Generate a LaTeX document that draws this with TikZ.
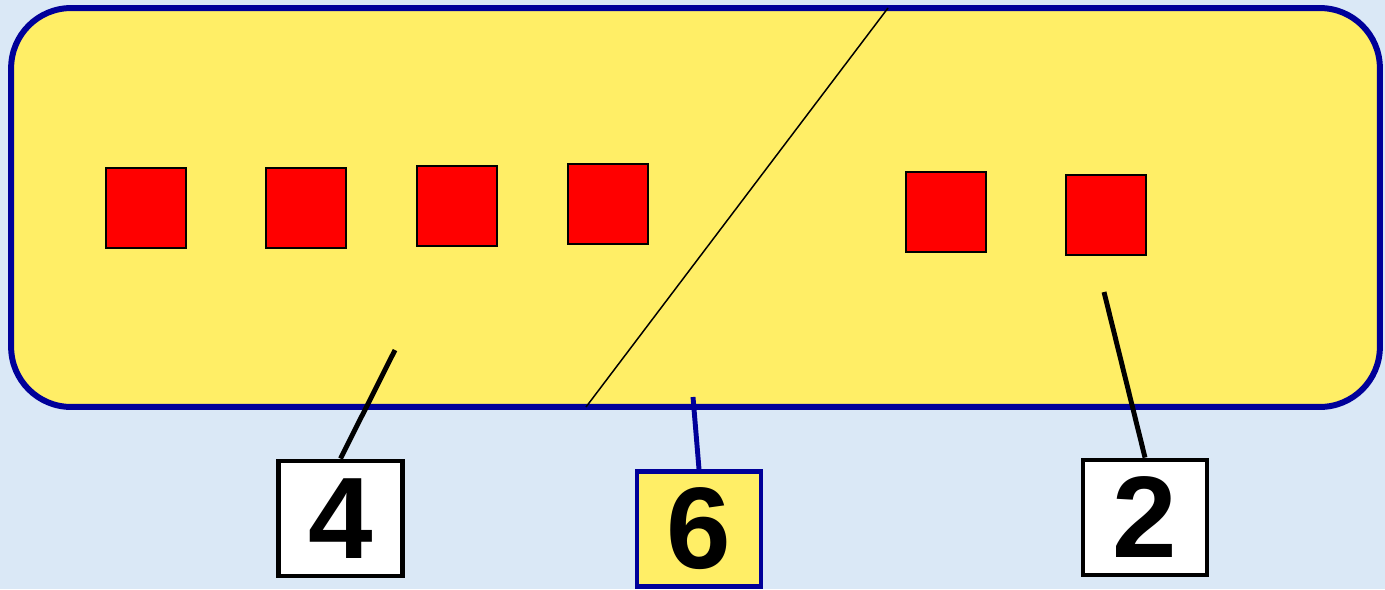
\documentclass[tikz,border=0pt]{standalone}
\usepackage{fontspec}
\setmainfont{Liberation Sans}
\usepackage{xcolor}
\usetikzlibrary{positioning}
\definecolor{skyback}{HTML}{DAE8F6}
\definecolor{panelfill}{HTML}{FFEE66}
\definecolor{panelstroke}{HTML}{000099}
\definecolor{blockred}{HTML}{FF0000}

\begin{document}
\begin{tikzpicture}[
  x=0.02cm,
  y=-0.02cm,
  panel/.style={
    rectangle,
    rounded corners=1.2cm,
    draw=panelstroke,
    fill=panelfill,
    line width=3.4pt,
    minimum width=27.38cm,
    minimum height=7.98cm,
    inner sep=0pt
  },
  block/.style={
    rectangle,
    draw=black,
    fill=blockred,
    line width=1.1pt,
    minimum size=1.6cm,
    inner sep=0pt
  },
  tag/.style={
    rectangle,
    draw=black,
    fill=white,
    line width=2.8pt,
    minimum width=2.48cm,
    minimum height=2.3cm,
    inner sep=0pt,
    font=\fontsize{66}{66}\selectfont\bfseries
  },
  tagblue/.style={
    tag,
    draw=panelstroke,
    fill=panelfill
  },
  pointer/.style={
    draw=black,
    line width=2.8pt
  },
  pointerblue/.style={
    draw=panelstroke,
    line width=2.8pt
  },
  divider/.style={
    draw=black,
    line width=0.85pt
  }
]

\fill[skyback] (0,0) rectangle (1385,589);
\useasboundingbox (0,0) rectangle (1385,589);

\node[panel] (panel) at (695.5,207.5) {};

% Divider across the panel
\coordinate (cuttop) at (888,8);
\coordinate (cutbot) at (586,407);
\draw[divider] (cuttop) -- (cutbot);

% Left group
\node[block] (b1) at (146,208) {};
\node[block] (b2) at (306,208) {};
\node[block] (b3) at (457,206) {};
\node[block] (b4) at (608,204) {};

% Right group
\node[block] (b5) at (946,212) {};
\node[block] (b6) at (1106,215) {};

% Tags
\node[tag]     (four) at (340.5,518.5) {4};
\node[tagblue] (six)  at (699,529)     {6};
\node[tag]     (two)  at (1145,517.5)  {2};

\coordinate (pfour) at (395,350);
\coordinate (psix)  at (693,397);
\coordinate (ptwo)  at (1104,292);

\draw[pointer] (pfour) -- (four.north);
\draw[pointerblue] (psix) -- (six.north);
\draw[pointer] (ptwo) -- (two.north);

\end{tikzpicture}
\end{document}
